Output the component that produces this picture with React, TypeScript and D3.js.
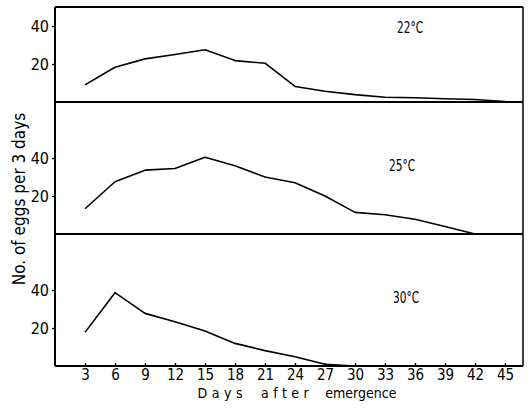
import React, { useEffect, useRef } from "react";
import * as d3 from "d3";

// days after emergence (x)
const days = [3, 6, 9, 12, 15, 18, 21, 24, 27, 30, 33, 36, 39, 42, 45];
// eggs per 3 days
const eggs22 = [9, 18.3, 22.7, 25, 27.5, 21.8, 20.4, 8.2, 5.7, 3.9, 2.5, 2.2, 1.7, 1.3, 0.3];
const eggs25 = [13.3, 27.5, 33.6, 34.5, 40.4, 35.9, 30, 27, 20, 11.4, 10.1, 7.8, 3.9, 0];
const eggs30 = [17.7, 38.6, 27.7, 23.3, 18.4, 11.9, 8.1, 4.9, 0.9, 0, 0];
const temps = ["22°C", "25°C", "30°C"];
const yTicks = [20, 40];

const W = 529;
const H = 414;
const FONT = "'DejaVu Sans Condensed', 'Liberation Sans Narrow', sans-serif";

export default function App() {
  const ref = useRef<SVGSVGElement>(null);

  useEffect(() => {
    const svg = d3.select(ref.current);
    svg.selectAll("*").remove();

    const left = 55, right = 523;
    const x = d3.scaleLinear().domain([0, 46.8]).range([left, right]);

    // panel tops / baselines
    const panels = [
      { top: 7, base: 102, data: eggs22, label: temps[0], lx: 410, ly: 33 },
      { top: 102, base: 234, data: eggs25, label: temps[1], lx: 402, ly: 171 },
      { top: 234, base: 366, data: eggs30, label: temps[2], lx: 406, ly: 303 },
    ];
    const pxPerUnit = 1.9;

    const g = svg.append("g");

    panels.forEach((p) => {
      const y = d3.scaleLinear()
        .domain([0, (p.base - p.top) / pxPerUnit])
        .range([p.base, p.top]);

      // y axis ticks
      const ax = g.append("g")
        .attr("transform", "translate(" + left + ",0)")
        .call(d3.axisLeft(y).tickValues(yTicks).tickSize(3).tickPadding(3));
      ax.select(".domain").remove();
      ax.selectAll("line").attr("stroke", "#000").attr("stroke-width", 1.3);
      ax.selectAll("text")
        .attr("font-family", FONT)
        .attr("font-size", 16)
        .attr("fill", "#000");

      // baseline
      g.append("line")
        .attr("x1", left).attr("x2", right)
        .attr("y1", p.base).attr("y2", p.base)
        .attr("stroke", "#000").attr("stroke-width", 2);

      const pts = p.data.map((v, i) => [days[i], v] as [number, number]);
      const line = d3.line<[number, number]>()
        .x((d) => x(d[0]))
        .y((d) => y(d[1]));
      g.append("path")
        .attr("d", line(pts))
        .attr("fill", "none")
        .attr("stroke", "#000")
        .attr("stroke-width", 1.6)
        .attr("stroke-linejoin", "round");

      g.append("text")
        .attr("x", p.lx).attr("y", p.ly)
        .attr("text-anchor", "middle")
        .attr("font-family", FONT)
        .attr("font-size", 15)
        .attr("textLength", 26)
        .attr("lengthAdjust", "spacingAndGlyphs")
        .text(p.label);
    });

    // frame: top, left, right
    g.append("line").attr("x1", left).attr("x2", right).attr("y1", 7).attr("y2", 7)
      .attr("stroke", "#000").attr("stroke-width", 1.8);
    g.append("line").attr("x1", left).attr("x2", left).attr("y1", 7).attr("y2", 366)
      .attr("stroke", "#000").attr("stroke-width", 2);
    g.append("line").attr("x1", right).attr("x2", right).attr("y1", 7).attr("y2", 366)
      .attr("stroke", "#000").attr("stroke-width", 1.5);

    // x axis ticks, pointing inward
    const xa = g.append("g")
      .attr("transform", "translate(0,366)")
      .call(d3.axisBottom(x).tickValues(days).tickSize(-3).tickPadding(3));
    xa.select(".domain").remove();
    xa.selectAll("line").attr("stroke", "#000").attr("stroke-width", 1.3);
    xa.selectAll("text")
      .attr("font-family", FONT)
      .attr("font-size", 15)
      .attr("fill", "#000");

    // axis titles
    const xt = g.append("text")
      .attr("x", 297).attr("y", 398)
      .attr("text-anchor", "middle")
      .attr("font-family", FONT)
      .attr("font-size", 14);
    xt.append("tspan").attr("letter-spacing", 4.5).text("Days");
    xt.append("tspan").attr("letter-spacing", 4.5).attr("dx", 14).text("after");
    xt.append("tspan").attr("dx", 12).text("emergence");

    g.append("text")
      .attr("transform", "translate(25,199) rotate(-90)")
      .attr("text-anchor", "middle")
      .attr("font-family", FONT)
      .attr("font-size", 17)
      .text("No. of eggs per 3 days");
  }, []);

  return (
    <svg
      ref={ref}
      width={W}
      height={H}
      style={{ position: "absolute", left: 0, top: 0, background: "#fff" }}
    />
  );
}
